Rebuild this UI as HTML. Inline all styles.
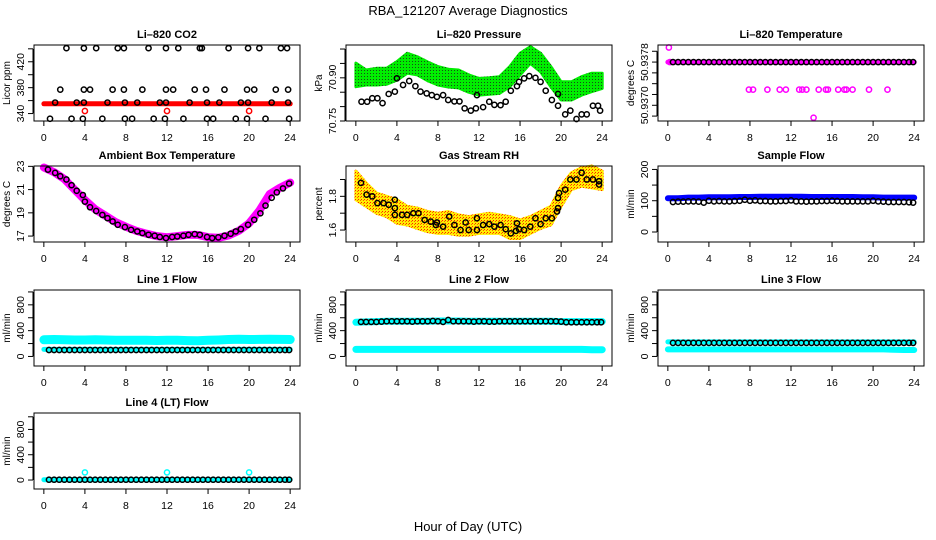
<!DOCTYPE html>
<html><head><meta charset="utf-8"><style>
html,body{margin:0;padding:0;background:#fff;}
svg{display:block;font-family:"Liberation Sans",Arial,sans-serif;}
</style></head><body>
<svg id="chart" width="936" height="540" viewBox="0 0 936 540" xmlns="http://www.w3.org/2000/svg">
<defs>
<pattern id="greenDots" width="3" height="3" patternUnits="userSpaceOnUse"><rect width="3" height="3" fill="#00ee00"/><rect x="1" y="1" width="1" height="1" fill="#1a4a1a"/></pattern>
<pattern id="rhDots" width="3" height="3" patternUnits="userSpaceOnUse"><rect width="3" height="3" fill="#ffee00"/><rect x="1" y="1" width="1" height="1" fill="#ff2000"/><rect x="0" y="2" width="1" height="1" fill="#ff6000"/></pattern>
</defs>
<text x="468" y="15" text-anchor="middle" font-size="13">RBA_121207  Average Diagnostics</text>
<text x="468" y="531" text-anchor="middle" font-size="13">Hour of Day (UTC)</text>
</svg>
<script>
const HALF=[0.5,1,1.5,2,2.5,3,3.5,4,4.5,5,5.5,6,6.5,7,7.5,8,8.5,9,9.5,10,10.5,11,11.5,12,12.5,13,13.5,14,14.5,15,15.5,16,16.5,17,17.5,18,18.5,19,19.5,20,20.5,21,21.5,22,22.5,23,23.5,23.9];
const HOURS=[0,1,2,3,4,5,6,7,8,9,10,11,12,13,14,15,16,17,18,19,20,21,22,23,24];
const xTicks=[0,4,8,12,16,20,24];

// CO2
const co2Hours=[2.2,3.9,5.1,7.2,7.8,10.2,11.9,13.1,15.2,15.4,18.0,19.9,21.0,23.1,23.7, 1.6,3.9,4.5,6.7,7.8,9.6,11.9,12.6,14.7,15.8,17.6,19.8,20.5,22.6,23.8, 1.1,3.2,3.9,6.2,7.9,9.1,11.3,11.9,14.2,15.9,17.1,19.2,19.9,22.2,23.8, 0.6,2.7,3.8,5.7,7.9,8.6,10.7,11.8,13.6,15.9,16.5,18.7,19.8,21.6,23.9];
const co2Vals=[441,441,441,441,441,441,441,441,441,441,441,441,441,441,441, 377,377,377,377,377,377,377,377,377,377,377,377,377,377,377, 357,357,357,357,357,357,357,357,357,357,357,357,357,357,357, 332,332,332,332,332,332,332,332,332,332,332,332,332,332,332];
const co2Red=[355,355,355,355,355,355,355,355,355,355,355,355,355,355,355,355,355,355,355,355,355,355,355,355,355];
const co2RedOutHours=[4,12,20];
const co2RedOutVals=[344,344,344];
const co2Ticks=[340,360,380,400,420,440];
const co2Labels=["340","","380","","420",""];

// Pressure
const presLow=[70.869,70.875,70.875,70.878,70.892,70.916,70.91,70.89,70.875,70.868,70.865,70.85,70.84,70.843,70.846,70.87,70.91,70.95,70.921,70.869,70.823,70.823,70.84,70.852,70.863];
const presHigh=[70.951,70.927,70.933,70.933,70.956,70.985,70.973,70.955,70.939,70.93,70.927,70.91,70.898,70.9,70.904,70.939,70.985,71.008,70.985,70.939,70.886,70.886,70.904,70.916,70.916];
const presHours=[0.55,1.1,1.6,2.1,2.6,3.2,3.8,4.0,4.6,5.2,5.8,6.3,6.9,7.4,7.9,8.5,9.0,9.6,10.1,10.6,11.2,11.7,11.8,12.4,13.0,13.5,14.1,14.6,15.1,15.7,15.9,16.4,16.9,17.5,18.0,18.5,19.1,19.7,19.7,20.4,20.9,21.5,22.0,22.5,23.1,23.6,23.8];
const presVals=[70.817,70.817,70.829,70.829,70.812,70.844,70.852,70.898,70.875,70.889,70.871,70.852,70.846,70.84,70.834,70.84,70.823,70.818,70.818,70.794,70.786,70.794,70.84,70.798,70.817,70.806,70.805,70.817,70.855,70.871,70.886,70.898,70.906,70.9,70.886,70.855,70.823,70.803,70.844,70.773,70.786,70.757,70.773,70.773,70.803,70.803,70.786];

// Li-820 temperature
const ltBlack=[50.9378,50.9378,50.9378,50.9378,50.9378,50.9378,50.9378,50.9378,50.9378,50.9378,50.9378,50.9378,50.9378,50.9378,50.9378,50.9378,50.9378,50.9378,50.9378,50.9378,50.9378,50.9378,50.9378,50.9378,50.9378,50.9378,50.9378,50.9378,50.9378,50.9378,50.9378,50.9378,50.9378,50.9378,50.9378,50.9378,50.9378,50.9378,50.9378,50.9378,50.9378,50.9378,50.9378,50.9378,50.9378,50.9378,50.9378,50.9378];
const ltMagHours=[0.1,0.2,7.9,8.3,9.7,10.9,11.5,12.8,13.1,13.5,14.2,14.7,15.4,15.6,16.6,17.2,17.4,18.0,19.6,21.4];
const ltMagVals=[50.93807,50.9378,50.93729,50.93729,50.93729,50.93729,50.93729,50.93729,50.93729,50.93729,50.93677,50.93729,50.93729,50.93729,50.93729,50.93729,50.93729,50.93729,50.93729,50.93729];
const ltMagBand=[50.9378,50.9378,50.9378,50.9378,50.9378,50.9378,50.9378,50.9378,50.9378,50.9378,50.9378,50.9378,50.9378,50.9378,50.9378,50.9378,50.9378,50.9378,50.9378,50.9378,50.9378,50.9378,50.9378,50.9378,50.9378];
const ltTicks=[50.9380,50.9378,50.9376,50.9374,50.9372,50.9370,50.9368];
const ltLabels=["","50.9378","","","","50.9370",""];

// Ambient
const ambHours=[0.4,1.1,1.6,2.2,2.7,3.2,3.8,4.0,4.5,5.1,5.7,6.2,6.7,7.2,7.9,8.5,9.1,9.6,10.2,10.8,11.3,11.9,12.5,13.0,13.6,14.1,14.7,15.2,15.9,16.4,17.0,17.6,18.2,18.7,19.2,19.9,20.5,21.1,21.6,22.2,22.7,23.3,23.9];
const ambVals=[22.72,22.44,22.15,21.87,21.38,20.9,20.53,19.96,19.48,19.16,18.82,18.54,18.26,17.97,17.77,17.54,17.4,17.26,17.11,17.03,16.92,16.83,16.92,16.97,17.03,17.11,17.17,17.11,16.92,16.83,16.89,17.03,17.2,17.4,17.6,17.97,18.4,18.96,19.62,20.3,20.76,21.1,21.52];
const ambBand=[22.9,22.5,21.9,21.0,20.1,19.3,18.75,18.2,17.8,17.45,17.2,17.0,16.9,17.0,17.1,17.1,16.9,16.85,17.05,17.45,18.1,19.2,20.6,21.15,21.6];
const ambTicks=[17,19,21,23];

// RH
const rhLow=[1.78,1.74,1.70,1.68,1.64,1.63,1.61,1.59,1.58,1.58,1.57,1.57,1.58,1.58,1.58,1.55,1.55,1.58,1.61,1.63,1.74,1.84,1.86,1.85,1.84];
const rhHigh=[1.95,1.88,1.82,1.80,1.78,1.74,1.73,1.71,1.70,1.71,1.69,1.68,1.69,1.70,1.69,1.68,1.66,1.68,1.71,1.74,1.86,1.94,1.97,1.98,1.95];
const rhHours=[0.5,1.05,1.6,2.1,2.7,3.2,3.8,3.8,3.8,4.5,5.0,5.6,6.1,6.7,7.3,7.8,7.9,8.5,9.1,9.6,10.2,10.7,11.0,11.8,11.8,12.4,13.0,13.5,14.1,14.6,15.1,15.6,15.7,15.9,16.4,17.0,17.5,18.0,18.5,19.1,19.6,19.7,19.7,19.8,20.4,20.9,21.5,22.0,22.5,23.1,23.7,23.7];
const rhVals=[1.88,1.81,1.80,1.76,1.76,1.75,1.78,1.73,1.69,1.69,1.69,1.70,1.70,1.66,1.65,1.63,1.645,1.62,1.68,1.63,1.60,1.645,1.60,1.67,1.60,1.63,1.635,1.62,1.63,1.605,1.58,1.595,1.64,1.605,1.60,1.62,1.67,1.635,1.67,1.67,1.71,1.73,1.79,1.82,1.84,1.90,1.90,1.94,1.90,1.90,1.87,1.89];
const rhTicks=[1.6,1.7,1.8,1.9];
const rhLabels=["1.6","","1.8",""];

// Sample flow
const sfBlue=[108,108,110,110,111,111,111,112,112,113,113,113,113,113,112,112,112,112,112,111,111,110,110,110,110];
const sfBlack=[96,97,97,98,98,97,94,100,98,99,98,98,99,100,103,100,101,99,99,98,98,99,99,101,98,98,97,98,98,99,99,100,99,98,98,98,98,98,98,100,98,97,96,96,96,96,95,94];
const sfTicks=[0,50,100,150,200];
const sfLabels=["0","","100","","200"];

// Line flows
const l1CyanHigh=[260,262,258,255,255,258,255,252,250,252,250,248,252,250,245,242,250,255,262,268,262,265,268,265,262];
const l1CyanLow=[110,110,110,110,110,110,110,110,110,110,110,110,110,110,110,110,110,110,110,110,110,110,110,110,110];
const l1Black=[100,100,100,100,100,100,100,100,100,100,100,100,100,100,100,100,100,100,100,100,100,100,100,100,100,100,100,100,100,100,100,100,100,100,100,100,100,100,100,100,100,100,100,100,100,100,100,100];
const l2CyanHigh=[530,535,540,545,545,545,545,545,550,550,550,545,545,545,545,545,545,545,545,545,540,540,540,540,540];
const l2CyanLow=[110,110,110,110,110,110,110,110,110,110,110,110,110,110,110,110,110,110,110,110,110,110,110,105,105];
const l2Black=[535,535,535,535,540,545,545,545,545,545,540,545,545,545,550,545,535,565,545,545,545,545,540,545,545,540,540,545,545,545,545,545,545,545,545,545,545,545,545,540,530,530,530,530,530,530,530,530];
const l3CyanHigh=[225,225,225,225,225,225,225,225,225,225,225,225,225,225,225,225,225,225,225,225,225,225,225,225,225];
const l3CyanLow=[110,110,110,110,110,110,110,110,110,110,110,110,110,110,110,110,110,110,110,110,110,110,105,100,100];
const l3Black=[210,210,210,210,210,210,210,210,210,210,210,210,210,210,210,210,210,210,210,210,210,210,210,210,210,210,210,210,210,210,210,210,210,210,210,210,210,210,210,210,210,210,210,210,210,210,210,210];
const l4Cyan=[5,5,5,5,5,5,5,5,5,5,5,5,5,5,5,5,5,5,5,5,5,5,5,5,5];
const l4Black=[5,5,5,5,5,5,5,5,5,5,5,5,5,5,5,5,5,5,5,5,5,5,5,5,5,5,5,5,5,5,5,5,5,5,5,5,5,5,5,5,5,5,5,5,5,5,5,5];
const l4OutHours=[4,12,20];
const l4OutVals=[120,120,120];
const flowTicks=[0,200,400,600,800,1000];
const flowLabels=["0","","400","","800",""];

const NS="http://www.w3.org/2000/svg";
const svg=document.getElementById('chart');
function mk(tag,attrs,parent){const e=document.createElementNS(NS,tag);for(const k in attrs)e.setAttribute(k,attrs[k]);(parent||svg).appendChild(e);return e;}

const colLeft=[34,346,658], rowTop=[45,166,290,413], BW=266, BH=76;

function makePanel(col,row,name,title,ylab,ymin,ymax,yTicks,yLabels){
  const L=colLeft[col],T=rowTop[row];
  const g=mk('g',{});
  
  
  const p={g,L,T,
    x:h=>L+9.85+h*(246.3/24),
    y:v=>T+BH-(v-ymin)/(ymax-ymin)*BH};
  const t=mk('text',{x:L+BW/2,y:T-7,'text-anchor':'middle','font-size':'11','font-weight':'bold'},g);
  t.textContent=title;
  
  
  const yl=mk('text',{transform:`translate(${L-24},${T+BH/2}) rotate(-90)`,'text-anchor':'middle','font-size':'10'},g);
  yl.textContent=ylab;
  
  
  const xa=mk('g',{},g);
  
  
  mk('line',{x1:p.x(0),x2:p.x(24),y1:T+BH,y2:T+BH,stroke:'#000','stroke-width':1},xa);
  xTicks.forEach(v=>{
    mk('line',{x1:p.x(v),x2:p.x(v),y1:T+BH,y2:T+BH+5,stroke:'#000','stroke-width':1},xa);
    const tx=mk('text',{x:p.x(v),y:T+BH+20,'text-anchor':'middle','font-size':'10.5'},xa);
    tx.textContent=String(v);
    
    
  });
  const ya=mk('g',{},g);
  
  
  const ys=yTicks.map(p.y);
  mk('line',{x1:L-1,x2:L-1,y1:Math.min(...ys),y2:Math.max(...ys),stroke:'#000','stroke-width':1},ya);
  yTicks.forEach((v,i)=>{
    const yy=p.y(v);
    mk('line',{x1:L-6,x2:L-1,y1:yy,y2:yy,stroke:'#000','stroke-width':1},ya);
    if(yLabels[i]){
      const tx=mk('text',{transform:`translate(${L-10},${yy}) rotate(-90)`,'text-anchor':'middle','font-size':'10.5'},ya);
      tx.textContent=yLabels[i];
      
      
    }
  });
  p.plot=mk('g',{},g);
  const bx=mk('rect',{x:L,y:T,width:BW,height:BH,fill:'none',stroke:'#000','stroke-width':1},g);
  
  
  return p;
}
function pts(p,hours,vals,color,nm,r,sw){
  hours.forEach((h,i)=>{
    const c=mk('circle',{cx:p.x(h),cy:p.y(vals[i]),r:r||2.6,fill:'none',stroke:color,'stroke-width':sw||1.5},p.plot);
    
    
  });
}
function band(p,vals,color,w,nm){
  const d=HOURS.map((h,i)=>(i?'L':'M')+p.x(h).toFixed(1)+','+p.y(vals[i]).toFixed(1)).join('');
  const e=mk('path',{d,fill:'none',stroke:color,'stroke-width':w,'stroke-linecap':'round','stroke-linejoin':'round'},p.plot);
  
  
}
function area(p,lo,hi,fill,nm){
  let d=HOURS.map((h,i)=>(i?'L':'M')+p.x(h).toFixed(1)+','+p.y(hi[i]).toFixed(1)).join('');
  for(let i=HOURS.length-1;i>=0;i--)d+='L'+p.x(HOURS[i]).toFixed(1)+','+p.y(lo[i]).toFixed(1);
  const e=mk('path',{d:d+'Z',fill,stroke:fill,'stroke-width':3,'stroke-linejoin':'round'},p.plot);
  
  
}

let p=makePanel(0,0,'co2','Li\u2013820 CO2','Licor ppm',328.5,445.9,co2Ticks,co2Labels);
band(p,co2Red,'#ff0000',5,'co2-red-band');
pts(p,co2RedOutHours,co2RedOutVals,'#ff0000','co2-red-point');
pts(p,co2Hours,co2Vals,'#000','co2-point');

p=makePanel(1,0,'pressure','Li\u2013820 Pressure','kPa',70.75,71.014,[70.75,70.80,70.85,70.90,70.95,71.0],["70.75","","","70.90","",""]);
area(p,presLow,presHigh,'url(#greenDots)','pressure-green-band');
pts(p,presHours,presVals,'#000','pressure-point');

p=makePanel(2,0,'li820-temp','Li\u2013820 Temperature','degrees C',50.936709,50.938116,ltTicks,ltLabels);
band(p,ltMagBand,'#ff00ff',5,'temp-magenta-band');
pts(p,ltMagHours,ltMagVals,'#ff00ff','temp-magenta-point');
pts(p,HALF,ltBlack,'#000','temp-point');

p=makePanel(0,1,'ambient','Ambient Box Temperature','degrees C',16.49,23.03,ambTicks,["17","19","21","23"]);
band(p,ambBand,'#ff00ff',8,'ambient-magenta-band');
pts(p,ambHours,ambVals,'#000','ambient-point');

p=makePanel(1,1,'rh','Gas Stream RH','percent',1.529,1.98,rhTicks,rhLabels);
area(p,rhLow,rhHigh,'url(#rhDots)','rh-band');
pts(p,rhHours,rhVals,'#000','rh-point');

p=makePanel(2,1,'sample-flow','Sample Flow','ml/min',-32,211,sfTicks,sfLabels);
band(p,sfBlue,'#0000ff',6,'sample-blue-band');
pts(p,HALF,sfBlack,'#000','sample-point');

p=makePanel(0,2,'line1','Line 1 Flow','ml/min',-148,1030,flowTicks,flowLabels);
band(p,l1CyanHigh,'#00ffff',9,'line1-cyan-high');
band(p,l1CyanLow,'#00ffff',5,'line1-cyan-low');
pts(p,HALF,l1Black,'#000','line1-point');

p=makePanel(1,2,'line2','Line 2 Flow','ml/min',-148,1030,flowTicks,flowLabels);
band(p,l2CyanHigh,'#00ffff',7,'line2-cyan-high');
band(p,l2CyanLow,'#00ffff',7,'line2-cyan-low');
pts(p,HALF,l2Black,'#000','line2-point');

p=makePanel(2,2,'line3','Line 3 Flow','ml/min',-148,1030,flowTicks,flowLabels);
band(p,l3CyanHigh,'#00ffff',5,'line3-cyan-high');
band(p,l3CyanLow,'#00ffff',6,'line3-cyan-low');
pts(p,HALF,l3Black,'#000','line3-point');

p=makePanel(0,3,'line4','Line 4 (LT) Flow','ml/min',-142,1060,flowTicks,flowLabels);
band(p,l4Cyan,'#00ffff',5,'line4-cyan');
pts(p,l4OutHours,l4OutVals,'#00ffff','line4-cyan-point');
pts(p,HALF,l4Black,'#000','line4-point');
</script>
</body></html>
